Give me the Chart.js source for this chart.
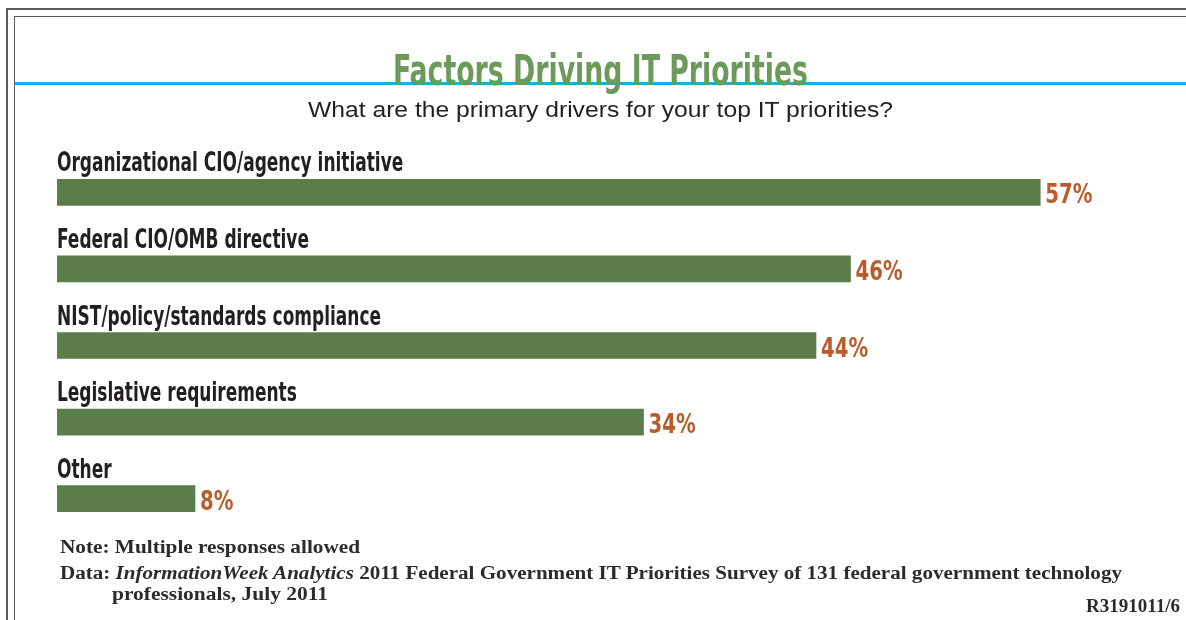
<!DOCTYPE html>
<html>
<head>
<meta charset="utf-8">
<script src="https://cdn.jsdelivr.net/npm/chart.js@4"></script>
<style>
  html, body { margin: 0; padding: 0; background: #fff; }
  #page { position: relative; width: 1186px; height: 620px; overflow: hidden; background: #fff; }
  .frame { position: absolute; border: 2px solid #5a5a5a; }
  #outer { left: 6px; top: 8px; width: 1300px; height: 700px; }
  #inner { left: 14px; top: 16px; width: 1300px; height: 700px; border-width: 1.5px; }
  #rule { position: absolute; left: 15px; top: 82px; width: 1180px; height: 2.5px; background: #16aee8; }
  canvas { position: absolute; left: 0; top: 0; }
  .txt { position: absolute; white-space: nowrap; transform-origin: 0 0; }
  #title { font-family: "Liberation Sans Narrow", "DejaVu Sans Condensed", sans-serif; font-weight: bold;
           font-size: 43px; color: #6b9a5b; line-height: 1; }
  #subtitle { font-family: "Liberation Sans", "DejaVu Sans", sans-serif; font-size: 22px; color: #231f20; line-height: 1; }
  .foot { font-family: "Liberation Serif", "DejaVu Serif", serif; font-weight: bold; font-size: 18px; color: #2b2b2b; line-height: 1; }
</style>
</head>
<body>
<div id="page">
  <div class="frame" id="outer"></div>
  <div class="frame" id="inner"></div>
  <div id="rule"></div>
  <canvas id="chart" width="1186" height="620"></canvas>
  <div class="txt" id="title">Factors Driving IT Priorities</div>
  <div class="txt" id="subtitle">What are the primary drivers for your top IT priorities?</div>
  <div class="txt foot" id="note">Note: Multiple responses allowed</div>
  <div class="txt foot" id="data">Data: <i>InformationWeek Analytics</i> 2011 Federal Government IT Priorities Survey of 131 federal government technology</div>
  <div class="txt foot" id="data2">professionals, July 2011</div>
  <div class="txt foot" id="code">R3191011/6</div>
</div>
<script>
// Survey answers, share of respondents (%)
const categories = [
  'Organizational CIO/agency initiative',
  'Federal CIO/OMB directive',
  'NIST/policy/standards compliance',
  'Legislative requirements',
  'Other'
];
const shares = [57, 46, 44, 34, 8];

const BAR_COLOR = '#5b7c4b';
const VALUE_COLOR = '#bb5b29';
const LABEL_COLOR = '#231f20';
const NARROW = '"Liberation Sans Narrow", "DejaVu Sans Condensed", sans-serif';

// Place a text block so that it spans a given width starting at (left, top)
function place(id, left, top, width, align) {
  const el = document.getElementById(id);
  const w = el.getBoundingClientRect().width;
  const s = width / w;
  el.style.transform = 'scaleX(' + s + ')';
  el.style.top = top + 'px';
  if (align === 'center') el.style.left = (left - width / 2) + 'px';
  else if (align === 'right') el.style.left = (left - width) + 'px';
  else el.style.left = left + 'px';
}
place('title', 600, 49, 415, 'center');
place('subtitle', 600, 99, 585, 'center');
place('note', 60, 538, 300, 'left');
place('data', 60, 564, 1062, 'left');
place('data2', 112, 585, 216, 'left');
place('code', 1180, 597, 94, 'right');

// Draws text squeezed horizontally by a constant factor
function drawCondensed(ctx, text, x, y, squeeze) {
  ctx.save();
  ctx.translate(x, y);
  ctx.scale(squeeze, 1);
  ctx.textAlign = 'left';
  ctx.fillText(text, 0, 0);
  ctx.restore();
}

const barLabels = {
  id: 'barLabels',
  afterDatasetsDraw(chart) {
    const ctx = chart.ctx;
    const xs = chart.scales.x, ys = chart.scales.y;
    const meta = chart.getDatasetMeta(0);
    ctx.save();
    ctx.textBaseline = 'alphabetic';
    categories.forEach((name, i) => {
      const yc = ys.getPixelForValue(i);
      ctx.fillStyle = LABEL_COLOR;
      ctx.font = 'bold 27px ' + NARROW;
      drawCondensed(ctx, name, xs.getPixelForValue(0), yc - 21, 0.70);
    });
    meta.data.forEach((bar, i) => {
      ctx.fillStyle = VALUE_COLOR;
      ctx.font = 'bold 27px ' + NARROW;
      drawCondensed(ctx, shares[i] + '%', bar.x + 5, bar.y + 11, 0.81);
    });
    ctx.restore();
  }
};

new Chart(document.getElementById('chart'), {
  type: 'bar',
  data: {
    labels: categories,
    datasets: [{ data: shares, backgroundColor: BAR_COLOR, borderWidth: 0, barThickness: 26 }]
  },
  options: {
    indexAxis: 'y',
    responsive: false,
    animation: false,
    layout: { padding: { left: 57, right: 94, top: 154, bottom: 83 } },
    scales: {
      x: { display: false, min: 0, max: 60 },
      y: { display: false }
    },
    plugins: { legend: { display: false }, tooltip: { enabled: false } }
  },
  plugins: [barLabels]
});
</script>
</body>
</html>
